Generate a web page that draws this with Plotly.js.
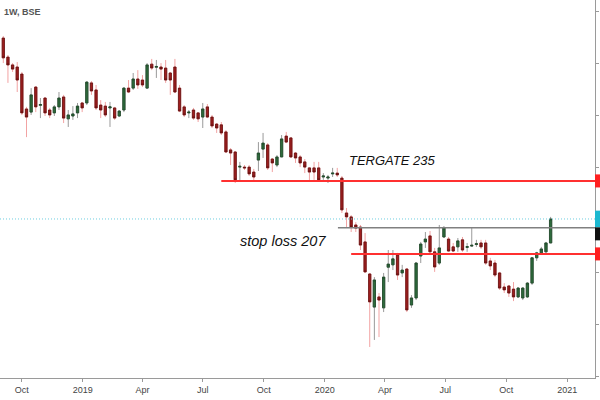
<!DOCTYPE html>
<html>
<head>
<meta charset="utf-8">
<script src="https://cdn.plot.ly/plotly-3.0.1.min.js"></script>
<style>html,body{margin:0;padding:0;background:#fff;}#chart{width:600px;height:400px;}</style>
</head>
<body>
<div id="chart"></div>
<script>
// Weekly candles, first week starting 2018-09-03
const firstWeek = '2018-09-03';
const open = [289.8,282.5,279.5,278.7,276.0,262.6,261.4,271.0,264.0,266.8,
262.2,261.1,263.4,267.2,258.8,259.9,261.1,264.9,264.9,272.6,
269.9,264.1,263.7,263.0,263.0,259.9,262.2,270.6,270.6,274.1,
273.7,270.6,279.8,278.6,278.7,278.3,276.4,278.7,270.6,263.4,
261.1,262.2,261.1,259.5,263.4,259.5,256.8,256.5,253.8,246.9,
246.1,240.3,240.3,240.3,238.4,243.0,247.2,248.8,243.4,241.1,
244.2,252.2,251.5,245.7,244.2,242.3,240.0,240.0,240.0,236.5,
236.1,237.7,238.0,236.1,222.7,221.2,218.1,217.3,211.6,199.3,
186.6,190.5,186.3,201.9,202.8,206.6,199.7,201.2,187.4,190.1,
206.2,211.6,213.9,207.8,203.5,213.5,212.7,209.7,209.7,212.4,
209.5,210.0,210.6,211.2,211.2,204.3,203.5,199.7,194.3,194.7,
193.5,190.5,190.1,190.5,195.8,205.5,207.4,207.8,211.2];
const high = [290.6,283.3,280.2,280.6,276.8,263.4,270.6,271.4,266.8,267.2,
263.0,264.1,269.1,268.0,262.2,263.7,264.9,265.3,273.3,273.3,
271.8,266.0,265.3,265.3,263.4,262.2,271.0,273.7,276.4,277.5,
275.6,280.2,281.8,281.4,280.2,281.4,276.8,281.8,271.8,264.1,
262.2,263.0,261.4,264.9,264.5,260.3,257.2,257.6,254.5,247.6,
246.5,242.3,241.1,241.1,239.6,249.9,253.4,249.5,243.8,244.9,
252.6,253.8,251.8,246.1,244.9,243.4,240.3,242.3,242.3,238.0,
237.3,240.0,240.0,236.9,224.6,221.9,219.2,218.1,215.0,199.7,
198.1,192.0,199.7,208.5,208.5,207.4,202.8,201.6,191.2,203.9,
211.6,215.4,215.8,209.3,218.1,217.7,213.5,211.2,213.1,213.5,
211.2,217.3,212.4,212.4,212.4,205.5,204.7,200.1,195.8,195.1,
196.2,194.3,194.3,196.2,205.8,207.8,209.7,211.6,221.2];
const low = [280.2,272.6,276.8,269.1,260.3,251.8,260.3,261.4,259.1,259.9,
259.1,259.9,262.2,257.2,255.7,258.4,259.1,261.4,264.1,268.0,
262.2,259.1,259.5,255.7,258.4,259.5,261.4,268.7,269.9,270.3,
271.0,270.3,277.5,274.5,273.7,272.6,268.0,268.7,261.4,259.5,
259.1,258.4,257.6,255.3,259.1,255.3,253.4,252.6,245.7,241.1,
234.2,234.6,239.2,236.9,234.6,238.8,243.8,239.2,238.4,240.3,
244.2,249.5,243.8,241.9,240.3,238.0,234.6,235.4,234.6,235.4,
234.2,236.5,236.5,222.7,217.3,215.4,215.4,208.5,199.7,171.3,
174.0,175.1,184.7,196.2,200.8,197.0,198.1,184.7,186.3,189.3,
203.5,209.3,207.4,200.1,202.8,213.1,207.8,207.8,207.8,207.8,
207.8,209.7,209.7,208.9,202.8,200.8,198.1,193.2,192.0,190.5,
188.9,190.1,189.3,190.1,195.1,204.3,206.6,207.4,211.2];
const close = [282.2,279.5,277.9,273.7,261.1,259.5,268.0,263.4,264.3,261.1,
260.3,263.4,266.8,259.1,260.3,260.7,263.7,263.0,272.9,269.5,
263.0,262.2,260.3,263.4,259.1,261.8,270.6,269.1,274.1,271.8,
271.8,279.5,278.3,278.9,277.9,273.7,273.7,269.1,261.8,260.3,
261.4,259.1,258.8,262.6,259.5,256.1,255.3,253.4,246.1,245.7,
235.4,240.6,240.0,237.7,236.5,245.7,249.5,240.0,241.9,244.2,
251.1,249.9,244.2,243.8,241.9,240.3,238.4,238.4,235.4,236.9,
236.5,238.0,237.3,223.9,221.2,217.3,216.9,210.4,200.1,188.6,
197.0,189.3,198.1,203.1,205.1,198.9,200.8,185.5,190.1,203.5,
210.8,212.7,207.8,202.0,209.3,217.0,208.1,208.1,212.0,208.5,
209.8,210.3,210.9,209.7,203.5,202.4,198.9,193.9,193.2,192.0,
190.5,193.9,193.9,195.8,205.5,207.4,208.9,211.2,220.4];

const tickVals = ['2018-10-01','2019-01-01','2019-04-01','2019-07-01','2019-10-01','2020-01-01','2020-04-01','2020-07-01','2020-10-01','2021-01-01'];
const tickText = ['Oct','2019','Apr','Jul','Oct','2020','Apr','Jul','Oct','2021'];

const targetLevel = 235, targetStart = '2019-07-29', targetLabel = 'TERGATE 235';
const stopLevel = 207, stopStart = '2020-02-10', stopLabel = 'stop loss 207';
const resistLevel = 217, resistStart = '2020-01-21';
const symbolLabel = '1W, BSE';

// dates
const dates = [];
{
  const d0 = new Date(firstWeek + 'T00:00:00Z');
  for (let i = 0; i < open.length; i++) {
    const d = new Date(d0.getTime() + i * 7 * 86400000);
    dates.push(d.toISOString().slice(0, 10));
  }
}
const bodyHi = open.map((o, i) => Math.max(o, close[i]));
const bodyLo = open.map((o, i) => Math.min(o, close[i]));
const lastClose = close[close.length - 1];

const wicks = {
  type: 'candlestick', x: dates, open: open, high: high, low: low, close: close,
  increasing: {line: {color: '#9a9a9a', width: 1}, fillcolor: '#9a9a9a'},
  decreasing: {line: {color: '#f2a3a3', width: 1}, fillcolor: '#f2a3a3'},
  hoverinfo: 'skip', showlegend: false
};
const bodies = {
  type: 'candlestick', x: dates, open: open, high: bodyHi, low: bodyLo, close: close,
  increasing: {line: {color: '#1f4a2a', width: 0.8}, fillcolor: '#2e6b3c'},
  decreasing: {line: {color: '#5e1010', width: 0.8}, fillcolor: '#a01e1e'},
  hoverinfo: 'skip', showlegend: false
};

const layout = {
  width: 600, height: 400,
  margin: {l: 0, r: 5, t: 0, b: 22},
  paper_bgcolor: '#ffffff', plot_bgcolor: '#ffffff',
  showlegend: false,
  xaxis: {
    type: 'date', range: ['2018-08-29', '2021-02-12'],
    rangeslider: {visible: false},
    showgrid: false, zeroline: false,
    showline: true, linecolor: '#9a9a9a', linewidth: 1,
    ticks: 'outside', ticklen: 3, tickcolor: '#9a9a9a',
    tickmode: 'array', tickvals: tickVals, ticktext: tickText,
    tickfont: {family: 'Liberation Sans Narrow, Liberation Sans, sans-serif', size: 9, color: '#444'}
  },
  yaxis: {
    range: [159.4, 304.4], side: 'right',
    showgrid: false, zeroline: false,
    showline: true, linecolor: '#9a9a9a', linewidth: 1,
    ticks: 'outside', ticklen: 3, tickcolor: '#9a9a9a', dtick: 20,
    showticklabels: false, fixedrange: true
  },
  shapes: [
    {type: 'line', xref: 'paper', x0: 0, x1: 1, yref: 'y', y0: lastClose, y1: lastClose,
     line: {color: '#6fcfe0', width: 1, dash: '1px,2px'}},
    {type: 'line', xref: 'x', x0: targetStart, x1: '2021-03-01', yref: 'y', y0: targetLevel, y1: targetLevel,
     line: {color: '#ff3030', width: 2}},
    {type: 'line', xref: 'x', x0: resistStart, x1: '2021-03-01', yref: 'y', y0: resistLevel, y1: resistLevel,
     line: {color: '#808080', width: 1.5}},
    {type: 'line', xref: 'x', x0: stopStart, x1: '2021-03-01', yref: 'y', y0: stopLevel, y1: stopLevel,
     line: {color: '#ff3030', width: 2}},
    {type: 'rect', xref: 'paper', x0: 1.0, x1: 1.02, yref: 'y', y0: targetLevel - 2.5, y1: targetLevel + 2.5,
     fillcolor: '#ff2020', line: {width: 0}},
    {type: 'rect', xref: 'paper', x0: 1.0, x1: 1.02, yref: 'y', y0: lastClose - 3.2, y1: lastClose + 3.2,
     fillcolor: '#1cb8d0', line: {width: 0}},
    {type: 'rect', xref: 'paper', x0: 1.0, x1: 1.02, yref: 'y', y0: lastClose - 8.2, y1: lastClose - 3.2,
     fillcolor: '#111111', line: {width: 0}},
    {type: 'rect', xref: 'paper', x0: 1.0, x1: 1.02, yref: 'y', y0: stopLevel - 2.5, y1: stopLevel + 2.5,
     fillcolor: '#ff2020', line: {width: 0}}
  ],
  annotations: [
    {text: targetLabel, xref: 'x', x: '2020-02-03', yref: 'y', y: 243.0, xanchor: 'left', yanchor: 'middle',
     showarrow: false, font: {family: 'Liberation Sans, Arial, sans-serif', size: 13, color: '#111', style: 'italic'}},
    {text: stopLabel, xref: 'x', x: '2019-08-23', yref: 'y', y: 211.9, xanchor: 'left', yanchor: 'middle',
     showarrow: false, font: {family: 'Liberation Sans, Arial, sans-serif', size: 14.5, color: '#111', style: 'italic'}},
    {text: '<b>' + symbolLabel + '</b>', xref: 'paper', x: 0.004, yref: 'paper', y: 0.968, xanchor: 'left', yanchor: 'middle',
     showarrow: false, font: {family: 'Liberation Sans, Arial, sans-serif', size: 9, color: '#555'}}
  ]
};

Plotly.newPlot('chart', [wicks, bodies], layout, {displayModeBar: false, staticPlot: true});
</script>
</body>
</html>
